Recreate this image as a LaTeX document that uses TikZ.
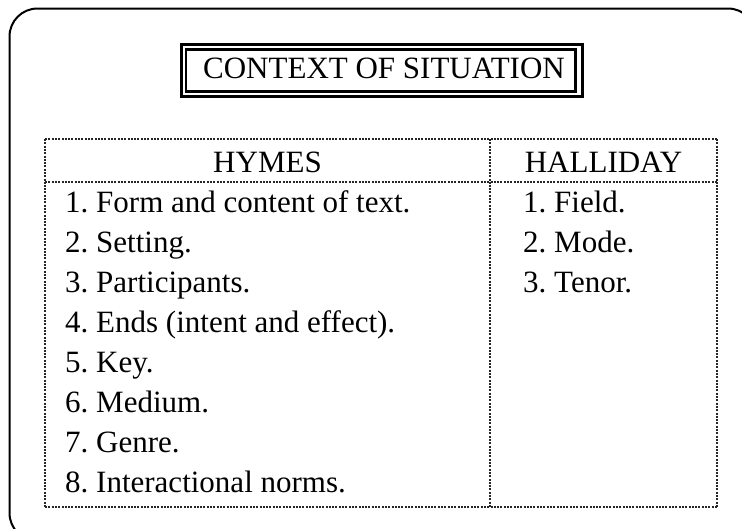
\documentclass[tikz,border=0pt]{standalone}
\usepackage{fontspec}
\setmainfont{Liberation Serif}
\frenchspacing
\begin{document}
\begin{tikzpicture}[x=1pt,y=-1pt,
  txt/.style={inner sep=0pt,font=\fontsize{31}{37}\selectfont},
  item/.style={txt,anchor=base west},
  dotline/.style={line width=2pt,dash pattern=on 2pt off 1.3pt,color=black!85},
  dotthick/.style={line width=2.6pt,dash pattern=on 2pt off 1.3pt,color=black!85}]
\useasboundingbox (0,0) rectangle (742,528);
\begin{scope}
\clip (0,0) rectangle (742,528);
\draw[line width=2pt,rounded corners=28pt] (9.5,8.5) rectangle (756,541);
\end{scope}
% title double frame
\draw[line width=3pt] (181.5,44.5) rectangle (582.5,96);
\draw[line width=2.5pt] (186,49.5) rectangle (575.5,91.5);
\node[txt,anchor=base] (title) at (384,78.5) {CONTEXT OF SITUATION};
% table
\coordinate (tl) at (45,139);
\coordinate (tm) at (490,139);
\coordinate (tr) at (717,139);
\coordinate (hl) at (45,181.5);
\coordinate (hm) at (490,181.5);
\coordinate (hr) at (717,181.5);
\coordinate (bl) at (45,507);
\coordinate (bm) at (490,507);
\coordinate (br) at (717,507);
\draw[dotline] (tl) -- (tr);
\draw[dotline] (hl) -- (hr);
\draw[dotline] (bl) -- (br);
\draw[dotline] (tl) -- (hl);
\draw[dotline] (tm) -- (hm);
\draw[dotline] (tr) -- (hr);
\draw[dotthick] (hl) -- (bl);
\draw[dotthick] (hm) -- (bm);
\draw[dotthick] (hr) -- (br);
\node[txt,anchor=base] (hymes) at (267.5,172) {HYMES};
\node[txt,anchor=base] (halliday) at (603.5,172) {HALLIDAY};
\node[item] (h1) at (65,212) {1. Form and content of text.};
\node[item] (h2) at (65,252.1) {2. Setting.};
\node[item] (h3) at (65,292.2) {3. Participants.};
\node[item] (h4) at (65,332.3) {4. Ends (intent and effect).};
\node[item] (h5) at (65,372.4) {5. Key.};
\node[item] (h6) at (65,412.5) {6. Medium.};
\node[item] (h7) at (65,452.6) {7. Genre.};
\node[item] (h8) at (65,492.7) {8. Interactional norms.};
\node[item] (m1) at (523,212) {1. Field.};
\node[item] (m2) at (523,252.1) {2. Mode.};
\node[item] (m3) at (523,292.2) {3. Tenor.};
\end{tikzpicture}
\end{document}
